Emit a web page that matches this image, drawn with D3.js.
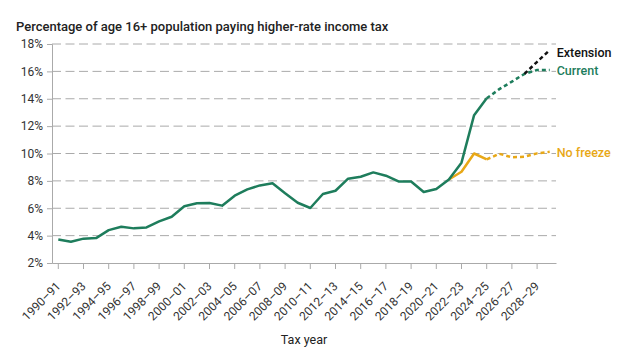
<!DOCTYPE html>
<html><head><meta charset="utf-8">
<script src="https://cdn.jsdelivr.net/npm/d3@7"></script>
<style>
html,body{margin:0;padding:0;background:#fff;}
svg{display:block;font-family:Roboto,"Noto Sans",sans-serif;}
</style></head>
<body><svg id="chart" width="634" height="361"></svg>
<script>
const startYears = d3.range(1990, 2030);
const categories = startYears.map(y => `${y}–${String((y + 1) % 100).padStart(2, "0")}`);
const tickLabels = categories.filter((d, i) => i % 2 === 0);
const yTicks = [2, 4, 6, 8, 10, 12, 14, 16, 18];

const current = [3.72,3.55,3.78,3.82,4.4,4.65,4.53,4.6,5.04,5.38,
  6.14,6.36,6.38,6.19,6.92,7.38,7.67,7.82,7.09,6.4,
  6.02,7.04,7.28,8.16,8.3,8.62,8.38,7.96,7.96,7.19,
  7.4,8.1,9.33,12.8,14.03,14.7,15.25,15.82,16.1,16.1];
const extension = [null,null,null,null,null,null,null,null,null,null,
  null,null,null,null,null,null,null,null,null,null,
  null,null,null,null,null,null,null,null,null,null,
  null,null,null,null,null,null,null,15.82,16.7,17.55];
const noFreeze = [null,null,null,null,null,null,null,null,null,null,
  null,null,null,null,null,null,null,null,null,null,
  null,null,null,null,null,null,null,null,null,null,
  null,8.1,8.67,10.0,9.57,9.98,9.72,9.77,10.01,10.12];
const projectionStart = "2024–25";

const svg = d3.select("#chart");
const W = 634, H = 361;
const m = {left: 52, right: 78, top: 44, bottom: 98};

const x = d3.scaleBand().domain(categories).range([m.left, W - m.right]).padding(0);
const cx = d => x(d) + x.bandwidth() / 2;
const y = d3.scaleLinear().domain([2, 18]).range([H - m.bottom, m.top]);

const axisColor = "#aaaaaa";

// gridlines
svg.append("g").selectAll("line").data(yTicks.filter(t => t > 2)).join("line")
  .attr("x1", m.left).attr("x2", W - m.right)
  .attr("y1", d => y(d)).attr("y2", d => y(d))
  .attr("stroke", axisColor).attr("stroke-width", 1)
  .attr("stroke-dasharray", "9,4.5");

// y axis
const gy = svg.append("g").attr("transform", `translate(${m.left},0)`)
  .call(d3.axisLeft(y).tickValues(yTicks).tickFormat(d => d + "%").tickSize(5).tickPadding(4));
gy.select(".domain").attr("stroke", axisColor);
gy.selectAll(".tick line").attr("stroke", axisColor);
gy.selectAll(".tick text").attr("fill", "#333").style("font-size", "12px").style("font-family", "Roboto");

// x axis
const gx = svg.append("g").attr("transform", `translate(0,${H - m.bottom})`)
  .call(d3.axisBottom(x).tickValues(tickLabels).tickSize(6).tickSizeOuter(0).tickFormat(d => d));
gx.select(".domain").attr("stroke", axisColor);
gx.selectAll(".tick line").attr("stroke", axisColor);
gx.selectAll(".tick text").attr("fill", "#333").style("font-size", "12px").style("font-family", "Roboto")
  .attr("text-anchor", "end")
  .attr("transform", "translate(3,24) rotate(-45)")
  .attr("y", 0).attr("dy", "0");

// lines
const lineGen = d3.line()
  .defined(d => d.v != null)
  .x(d => cx(d.c)).y(d => y(d.v));
function seriesData(vals) { return categories.map((c, i) => ({c, v: vals[i]})); }
const pIdx = categories.indexOf(projectionStart);
function drawSeries(vals, color, dashAll) {
  const data = seriesData(vals);
  if (dashAll) {
    svg.append("path").datum(data).attr("d", lineGen).attr("fill", "none")
      .attr("stroke", color).attr("stroke-width", 2.5).attr("stroke-dasharray", "4,3");
    return;
  }
  const solid = data.map((d, i) => i <= pIdx ? d : {c: d.c, v: null});
  const dashed = data.map((d, i) => i >= pIdx ? d : {c: d.c, v: null});
  svg.append("path").datum(solid).attr("d", lineGen).attr("fill", "none")
    .attr("stroke", color).attr("stroke-width", 2.5).attr("stroke-linejoin", "round");
  svg.append("path").datum(dashed).attr("d", lineGen).attr("fill", "none")
    .attr("stroke", color).attr("stroke-width", 2.5).attr("stroke-dasharray", "4,3");
}
const green = "#1e7d5c", yellow = "#e8a817", black = "#111111";
drawSeries(noFreeze, yellow, false);
drawSeries(current, green, false);
drawSeries(extension, black, true);

// labels
const last = categories[categories.length - 1];
const lx = cx(last) + 7;
const labels = [
  {t: "Extension", v: extension[extension.length - 1], col: black, dy: 2},
  {t: "Current", v: current[current.length - 1], col: green, dy: 1},
  {t: "No freeze", v: noFreeze[noFreeze.length - 1], col: yellow, dy: 1}
];
svg.append("g").selectAll("text").data(labels).join("text")
  .attr("x", lx).attr("y", d => y(d.v) + d.dy)
  .attr("dy", "0.35em")
  .attr("fill", d => d.col)
  .style("font-size", "12.5px").style("font-weight", 500)
  .text(d => d.t);

// title
svg.append("text").attr("x", 16).attr("y", 31)
  .attr("fill", "#222").style("font-size", "13px").style("font-weight", 500)
  .text("Percentage of age 16+ population paying higher-rate income tax");

// x title
svg.append("text").attr("x", (m.left + W - m.right) / 2).attr("y", 344)
  .attr("text-anchor", "middle").attr("fill", "#222").style("font-size", "12.5px")
  .text("Tax year");
</script></body></html>
